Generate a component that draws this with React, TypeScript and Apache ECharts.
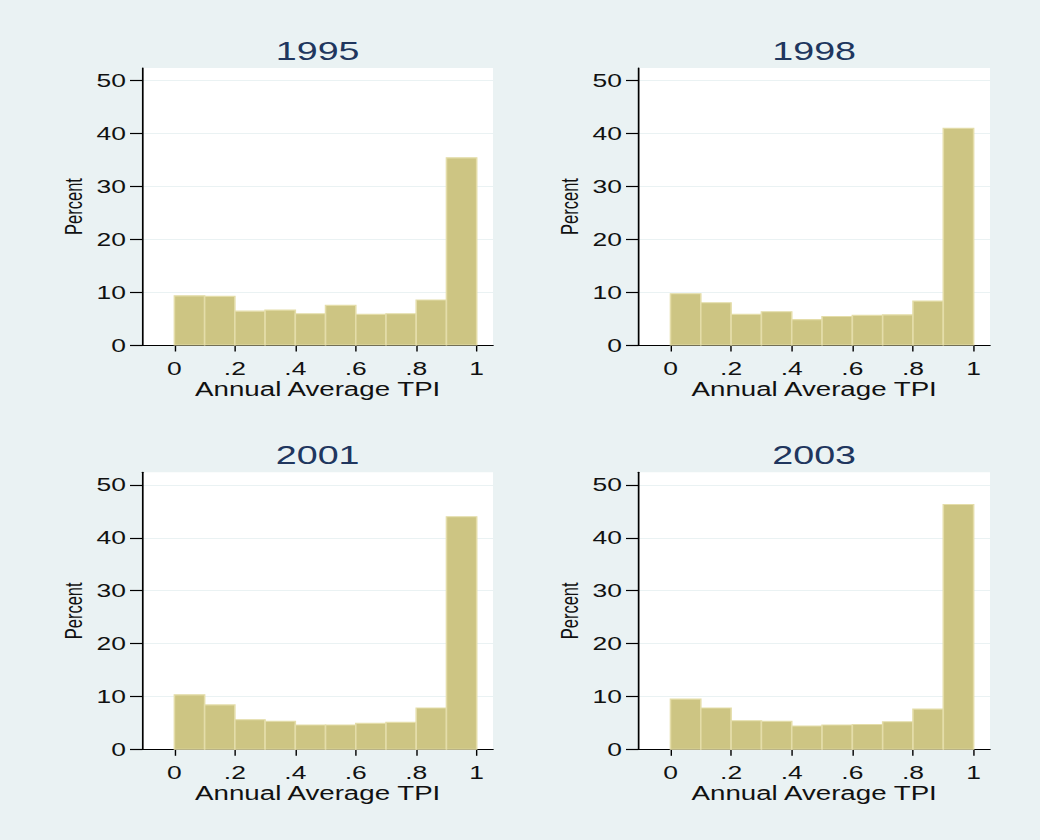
import React, { useEffect, useRef } from "react";
import * as echarts from "echarts";

// ---- data ----
const years = ["1995", "1998", "2001", "2003"];
const binEdges = [0, 0.1, 0.2, 0.3, 0.4, 0.5, 0.6, 0.7, 0.8, 0.9, 1];
const pct1995 = [9.3, 9.2, 6.4, 6.6, 5.9, 7.5, 5.8, 5.9, 8.5, 35.4];
const pct1998 = [9.7, 8.0, 5.8, 6.3, 4.8, 5.4, 5.6, 5.7, 8.3, 41.0];
const pct2001 = [10.3, 8.4, 5.6, 5.3, 4.6, 4.6, 4.9, 5.1, 7.8, 44.0];
const pct2003 = [9.5, 7.8, 5.4, 5.3, 4.4, 4.6, 4.7, 5.2, 7.6, 46.3];
const xTicks = [0, 0.2, 0.4, 0.6, 0.8, 1];
const xTickLabels = ["0", ".2", ".4", ".6", ".8", "1"];
const yTicks = [0, 10, 20, 30, 40, 50];
const xTitle = "Annual Average TPI";
const yTitle = "Percent";

const panelValues = [pct1995, pct1998, pct2001, pct2003];

// ---- layout (unstretched coordinates; whole chart is stretched horizontally) ----
const W = 732;
const H = 840;
const SX = 1040 / W;
const BG = "#eaf2f3";
const FONT = "Liberation Sans, Arial, Helvetica, sans-serif";

const grids = [
  { left: 100.2, top: 68, width: 246.8, height: 277 },
  { left: 449.3, top: 68, width: 247.5, height: 277 },
  { left: 100.2, top: 472.3, width: 246.8, height: 277 },
  { left: 449.3, top: 472.3, width: 247.5, height: 277 },
];
const titleTops = [37.6, 37.6, 441.2, 441.2];

function fmtX(v: number) {
  const i = xTicks.findIndex((t) => Math.abs(t - v) < 1e-6);
  return i >= 0 ? xTickLabels[i] : "";
}

export default function App() {
  const ref = useRef<HTMLDivElement>(null);
  useEffect(() => {
    if (!ref.current) return;
    const chart = echarts.init(ref.current, null, { renderer: "svg" });

    const option: any = {
      animation: false,
      backgroundColor: BG,
      textStyle: { fontFamily: FONT },
      title: years.map((y, i) => ({
        text: y,
        left: grids[i].left + grids[i].width / 2,
        top: titleTops[i],
        textAlign: "center",
        padding: 0,
        textStyle: { color: "#20365e", fontSize: 26.5, fontWeight: "normal", fontFamily: FONT },
      })),
      grid: grids.map((g) => ({
        ...g,
        show: true,
        backgroundColor: "#ffffff",
        borderWidth: 0,
        containLabel: false,
      })),
      xAxis: grids.map((g, i) => ({
        type: "value",
        gridIndex: i,
        min: -0.106,
        max: 1.054,
        name: xTitle,
        nameLocation: "middle",
        nameGap: 30.5,
        nameTextStyle: { color: "#111", fontSize: 19.5, fontFamily: FONT },
        axisLine: { show: true, onZero: false, lineStyle: { color: "#000", width: 1.2 } },
        axisTick: { show: true, customValues: xTicks, length: 6.5, lineStyle: { color: "#000", width: 1 } },
        axisLabel: {
          show: true,
          customValues: xTicks,
          formatter: (v: number) => fmtX(v),
          color: "#111",
          fontSize: 18.6,
          margin: 14,
          fontFamily: FONT,
        },
        splitLine: { show: false },
      })),
      yAxis: grids.map((g, i) => ({
        type: "value",
        gridIndex: i,
        min: 0,
        max: 52.4,
        interval: 10,
        name: yTitle,
        nameLocation: "middle",
        nameRotate: 90,
        nameGap: 40,
        nameTextStyle: { color: "#111", fontSize: 16.5, fontFamily: FONT },
        axisLine: { show: true, onZero: false, lineStyle: { color: "#000", width: 1.2 } },
        axisTick: { show: true, customValues: yTicks, length: 8.7, lineStyle: { color: "#000", width: 1.2 } },
        axisLabel: {
          show: true,
          customValues: yTicks,
          color: "#111",
          fontSize: 18.6,
          margin: 11.5,
          fontFamily: FONT,
        },
        splitLine: { show: true, lineStyle: { color: BG, width: 1.2 } },
      })),
      series: panelValues.map((vals, i) => ({
        type: "custom",
        xAxisIndex: i,
        yAxisIndex: i,
        data: vals.map((v, k) => [binEdges[k], binEdges[k + 1], v]),
        renderItem: (params: any, api: any) => {
          const p0 = api.coord([api.value(0), api.value(2)]);
          const p1 = api.coord([api.value(1), 0]);
          return {
            type: "rect",
            shape: { x: p0[0], y: p0[1], width: p1[0] - p0[0], height: p1[1] - p0[1] },
            style: { fill: "#cdc583", stroke: "#e4dda9", lineWidth: 1.1 },
          };
        },
      })),
    };
    chart.setOption(option);
    return () => chart.dispose();
  }, []);

  return (
    <div
      style={{
        position: "fixed",
        left: 0,
        top: 0,
        width: 1040,
        height: H,
        overflow: "hidden",
        background: BG,
      }}
    >
      <div
        ref={ref}
        style={{
          width: W,
          height: H,
          transform: `scaleX(${SX})`,
          transformOrigin: "0 0",
        }}
      />
    </div>
  );
}
